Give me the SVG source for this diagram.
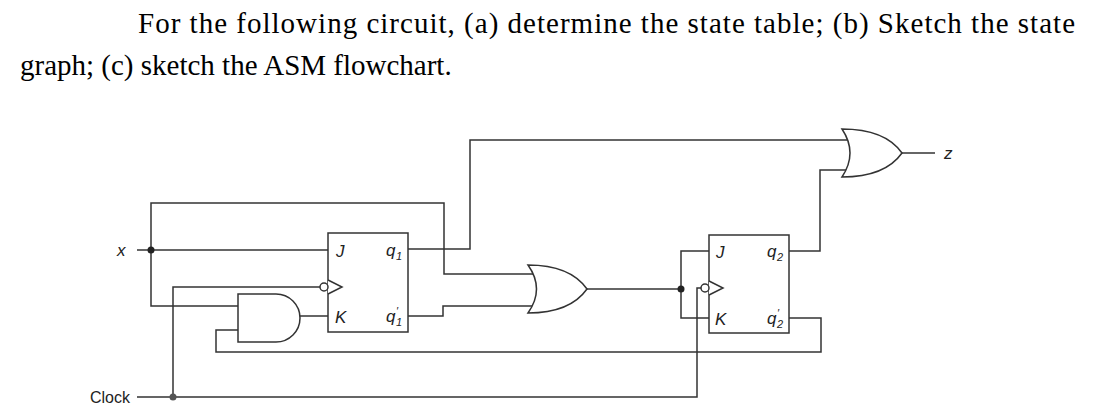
<svg xmlns="http://www.w3.org/2000/svg" width="1096" height="420" viewBox="0 0 1096 420">
<style>
.w{fill:none;stroke:#333;stroke-width:1.5}
.g{fill:#fff;stroke:#333;stroke-width:1.5}
.t{font-family:"Liberation Serif",serif;font-size:29px;fill:#000}
.l{font-family:"Liberation Sans",sans-serif;font-size:17px;font-style:italic;fill:#222}
.s{font-family:"Liberation Sans",sans-serif;font-size:11px;font-style:italic;fill:#222}
.c{font-family:"Liberation Sans",sans-serif;font-size:16px;fill:#222}
</style>
<rect width="1096" height="420" fill="#fff"/>
<text class="t" x="138" y="33" textLength="937" lengthAdjust="spacing">For the following circuit, (a) determine the state table; (b) Sketch the state</text>
<text class="t" x="20" y="75">graph; (c) sketch the ASM flowchart.</text>
<g id="connectors">
<path class="w" d="M137,250 H328"/>
<path class="w" d="M151,250 V203 H444 V274 H533"/>
<path class="w" d="M151,250 V306 H238"/>
<path class="w" d="M300,316 H328"/>
<path class="w" d="M238,330 H216 V352 H821 V318 H789"/>
<path class="w" d="M320,287 H173 V397"/>
<path class="w" d="M137,397 H697 V288 H702"/>
<path class="w" d="M408,249 H470 V140 H847"/>
<path class="w" d="M408,316 H443 V306 H533"/>
<path class="w" d="M587,289 H681"/>
<path class="w" d="M709,251 H681 V318 H709"/>
<path class="w" d="M789,251 H820 V170 H847"/>
<path class="w" d="M902,153 H935"/>
<circle cx="151" cy="250" r="3.5" fill="#222"/>
<circle cx="173" cy="397" r="3.5" fill="#555"/>
<circle cx="681" cy="289" r="3.5" fill="#222"/>
</g>
<g id="x"><text class="l" x="117" y="256">x</text></g>
<g id="clock"><text class="c" x="90" y="403">Clock</text></g>
<g id="z"><text class="l" x="944" y="159">z</text></g>
<g id="ff1">
<rect class="g" x="328" y="233" width="80" height="99"/>
<path class="g" d="M328,280 L342,287 L328,294"/>
<circle class="g" cx="324" cy="287" r="4"/>
<text class="l" x="336" y="257">J</text>
<text class="l" x="335" y="323">K</text>
<text class="l" x="386" y="256">q</text><text class="s" x="396" y="260">1</text>
<text class="l" x="386" y="322">q</text><text class="s" x="396" y="315">′</text><text class="s" x="396" y="326">1</text>
</g>
<g id="ff2">
<rect class="g" x="709" y="235" width="80" height="98"/>
<path class="g" d="M709,281 L723,288 L709,295"/>
<circle class="g" cx="705" cy="288" r="4"/>
<text class="l" x="716" y="258">J</text>
<text class="l" x="715" y="325">K</text>
<text class="l" x="767" y="257">q</text><text class="s" x="777" y="261">2</text>
<text class="l" x="767" y="324">q</text><text class="s" x="777" y="317">′</text><text class="s" x="777" y="328">2</text>
</g>
<g id="and1"><path class="g" d="M238,294 H276 A24,24 0 0 1 276,342 H238 Z"/></g>
<g id="or1"><path class="g" d="M528,265 Q545,289 528,313 Q570,313 587,289 Q570,265 528,265 Z"/></g>
<g id="or2"><path class="g" d="M842,129 Q858,153 842,177 Q885,177 902,153 Q885,129 842,129 Z"/></g>
</svg>
